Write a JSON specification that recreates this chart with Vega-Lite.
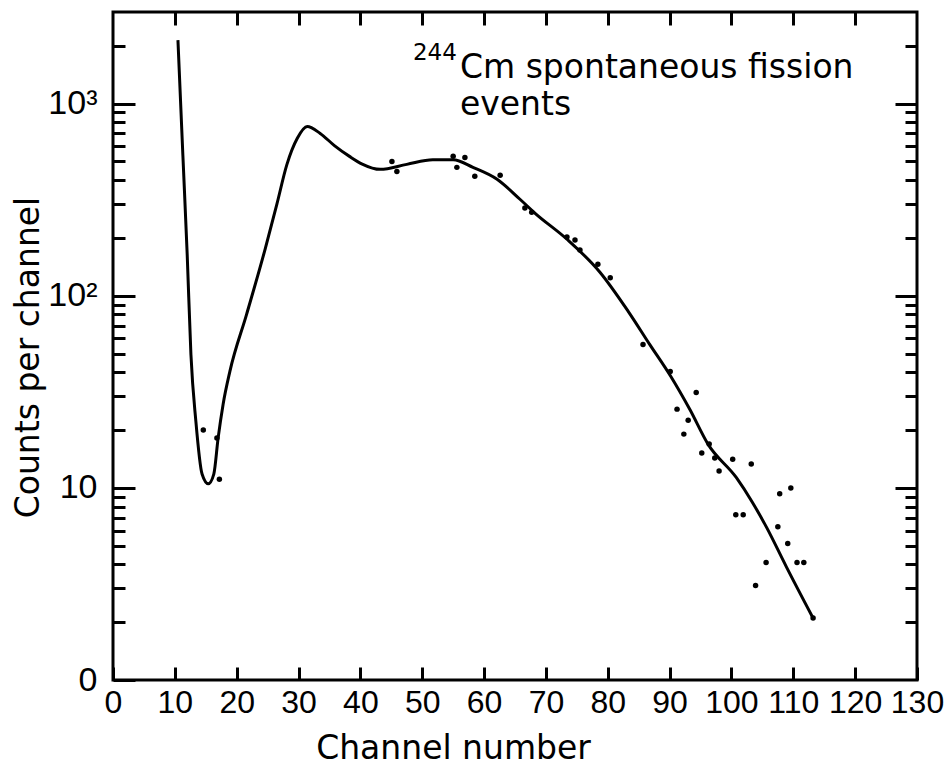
{
  "$schema": "https://vega.github.io/schema/vega-lite/v6.json",
  "width": 804,
  "height": 668,
  "autosize": {"type": "none"},
  "padding": {"left": 113, "top": 12, "right": 32, "bottom": 98},
  "background": "white",
  "config": {
    "view": {"stroke": "black", "strokeWidth": 3},
    "font": "DejaVu Sans",
    "axis": {
      "domain": false,
      "grid": false,
      "tickColor": "black",
      "tickWidth": 3,
      "labelFont": "Liberation Sans",
      "labelColor": "black",
      "labelFlush": false,
      "labelOverlap": false,
      "labelBound": false,
      "titleFont": "DejaVu Sans",
      "titleColor": "black",
      "titleFontWeight": "normal"
    }
  },
  "datasets": {
    "curve": [
      {"channel": 10.5, "counts": 2140},
      {"channel": 11.3, "counts": 537},
      {"channel": 12.0, "counts": 163},
      {"channel": 12.6, "counts": 49.5},
      {"channel": 13.4, "counts": 22.2},
      {"channel": 14.4, "counts": 11.8},
      {"channel": 15.4, "counts": 10.5},
      {"channel": 16.3, "counts": 11.8},
      {"channel": 17.0, "counts": 18.2},
      {"channel": 17.8, "counts": 27.2},
      {"channel": 18.9, "counts": 40.4},
      {"channel": 21.6, "counts": 80},
      {"channel": 24.6, "counts": 175},
      {"channel": 26.5, "counts": 300},
      {"channel": 28.1, "counts": 480},
      {"channel": 29.8, "counts": 660},
      {"channel": 31.4, "counts": 760},
      {"channel": 33.5, "counts": 700},
      {"channel": 35.8, "counts": 605},
      {"channel": 38.3, "counts": 530},
      {"channel": 40.3, "counts": 485},
      {"channel": 43.2, "counts": 455},
      {"channel": 47.5, "counts": 483},
      {"channel": 51.7, "counts": 510},
      {"channel": 55.0, "counts": 510},
      {"channel": 58.2, "counts": 466},
      {"channel": 62.1, "counts": 404},
      {"channel": 65.8, "counts": 318},
      {"channel": 68.3, "counts": 268},
      {"channel": 73.4, "counts": 197},
      {"channel": 78.7, "counts": 133},
      {"channel": 83.3, "counts": 83},
      {"channel": 86.8, "counts": 55.7},
      {"channel": 90.2, "counts": 38},
      {"channel": 93.3, "counts": 25.5},
      {"channel": 96.2, "counts": 16.9},
      {"channel": 100.8, "counts": 11.3},
      {"channel": 103.3, "counts": 8.5},
      {"channel": 105.7, "counts": 6.21},
      {"channel": 108.9, "counts": 3.87},
      {"channel": 113.2, "counts": 2.1}
    ],
    "dots": [
      {"channel": 14.6, "counts": 20},
      {"channel": 16.8, "counts": 18.2},
      {"channel": 17.2, "counts": 11.1},
      {"channel": 45.1, "counts": 500},
      {"channel": 45.9, "counts": 444},
      {"channel": 55.0, "counts": 532},
      {"channel": 56.9, "counts": 525},
      {"channel": 55.6, "counts": 466},
      {"channel": 58.5, "counts": 419},
      {"channel": 62.6, "counts": 424},
      {"channel": 66.6, "counts": 286},
      {"channel": 67.7, "counts": 272},
      {"channel": 73.4, "counts": 202},
      {"channel": 74.7, "counts": 195},
      {"channel": 75.5, "counts": 173},
      {"channel": 78.4, "counts": 146},
      {"channel": 80.4, "counts": 124},
      {"channel": 85.7, "counts": 55.7},
      {"channel": 90.1, "counts": 40.4},
      {"channel": 94.3, "counts": 31.4},
      {"channel": 91.2, "counts": 25.7},
      {"channel": 93.0, "counts": 22.5},
      {"channel": 92.3, "counts": 19.05},
      {"channel": 96.4, "counts": 16.9},
      {"channel": 95.2, "counts": 15.2},
      {"channel": 97.3, "counts": 14.3},
      {"channel": 98.0, "counts": 12.25},
      {"channel": 100.2, "counts": 14.1},
      {"channel": 103.2, "counts": 13.3},
      {"channel": 107.8, "counts": 9.31},
      {"channel": 109.6, "counts": 10},
      {"channel": 100.7, "counts": 7.25},
      {"channel": 101.9, "counts": 7.25},
      {"channel": 107.5, "counts": 6.28},
      {"channel": 109.1, "counts": 5.13},
      {"channel": 105.6, "counts": 4.09},
      {"channel": 110.6, "counts": 4.09},
      {"channel": 111.7, "counts": 4.09},
      {"channel": 103.9, "counts": 3.1},
      {"channel": 113.2, "counts": 2.1}
    ],
    "labels": [
      {"channel": 56.1, "counts": 1364, "text": "Cm spontaneous fission"},
      {"channel": 56.1, "counts": 870, "text": "events"}
    ],
    "isotope": [
      {"channel": 48.5, "counts": 1690, "text": "244"}
    ]
  },
  "layer": [
    {
      "data": {"name": "curve"},
      "mark": {"type": "line", "color": "black", "strokeWidth": 3, "interpolate": "monotone"},
      "encoding": {
        "x": {
          "field": "channel", "type": "quantitative",
          "scale": {"domain": [0, 130], "nice": false, "zero": false},
          "axis": {
            "orient": "bottom",
            "values": [0, 10, 20, 30, 40, 50, 60, 70, 80, 90, 100, 110, 120, 130],
            "tickSize": -13,
            "labelPadding": 20,
            "labelFont": "Liberation Sans",
            "labelFontSize": 32,
            "labelBaseline": "top",
            "title": "Channel  number",
            "titleFontSize": 33,
            "titleX": 340,
            "titleY": 78,
            "titleAlign": "center",
            "titleBaseline": "alphabetic"
          }
        },
        "y": {
          "field": "counts", "type": "quantitative",
          "scale": {"type": "log", "domain": [1, 3000], "nice": false},
          "axis": {
            "orient": "left",
            "values": [1, 10, 100, 1000],
            "tickSize": -22,
            "labelPadding": 38,
            "labelFont": "Liberation Sans",
            "labelFontSize": 34,
            "labelExpr": "datum.value == 1 ? '0' : datum.value == 10 ? '10' : datum.value == 100 ? '10²' : '10³'",
            "title": "Counts  per  channel",
            "titleFontSize": 33,
            "titleX": -85,
            "titleY": 345,
            "titleAngle": -90,
            "titleAlign": "center",
            "titleBaseline": "middle"
          }
        }
      }
    },
    {
      "data": {"name": "dots"},
      "mark": {"type": "circle", "color": "black", "size": 30, "opacity": 1},
      "encoding": {
        "x": {
          "field": "channel", "type": "quantitative",
          "axis": {
            "orient": "top",
            "values": [10, 20, 30, 40, 50, 60, 70, 80, 90, 100, 110, 120],
            "tickSize": -13,
            "labels": false,
            "title": null
          }
        },
        "y": {
          "field": "counts", "type": "quantitative",
          "axis": {
            "orient": "right",
            "values": [10, 100, 1000],
            "tickSize": -22,
            "labels": false,
            "title": null
          }
        }
      }
    },
    {
      "data": {"name": "labels"},
      "mark": {"type": "text", "align": "left", "baseline": "alphabetic", "fontSize": 33, "font": "DejaVu Sans", "color": "black"},
      "encoding": {
        "x": {"field": "channel", "type": "quantitative", "axis": null},
        "y": {
          "field": "counts", "type": "quantitative",
          "axis": {
            "orient": "left",
            "values": [2, 3, 4, 5, 6, 7, 8, 9, 20, 30, 40, 50, 60, 70, 80, 90, 200, 300, 400, 500, 600, 700, 800, 900, 2000],
            "tickSize": -12,
            "labels": false,
            "title": null
          }
        },
        "text": {"field": "text"}
      }
    },
    {
      "data": {"name": "isotope"},
      "mark": {"type": "text", "align": "left", "baseline": "alphabetic", "fontSize": 23, "font": "DejaVu Sans", "color": "black"},
      "encoding": {
        "x": {"field": "channel", "type": "quantitative", "axis": null},
        "y": {
          "field": "counts", "type": "quantitative",
          "axis": {
            "orient": "right",
            "values": [2, 3, 4, 5, 6, 7, 8, 9, 20, 30, 40, 50, 60, 70, 80, 90, 200, 300, 400, 500, 600, 700, 800, 900, 2000],
            "tickSize": -12,
            "labels": false,
            "title": null
          }
        },
        "text": {"field": "text"}
      }
    }
  ],
  "resolve": {"axis": {"x": "independent", "y": "independent"}}
}
